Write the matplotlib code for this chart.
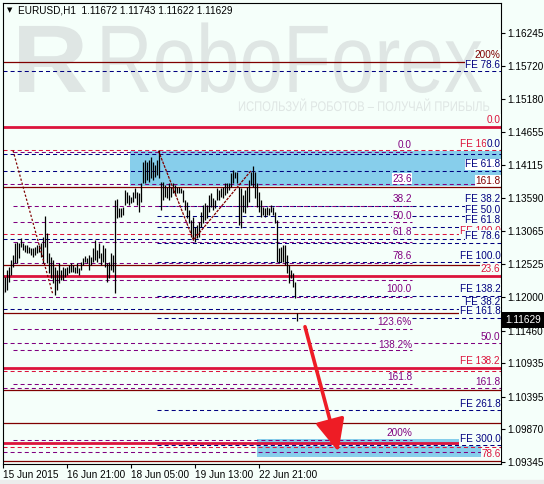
import matplotlib
matplotlib.use('Agg')
import matplotlib.pyplot as plt
from matplotlib.patches import Rectangle, PathPatch
from matplotlib.textpath import TextPath
from matplotlib.font_manager import FontProperties
from matplotlib.transforms import Affine2D, blended_transform_factory

plt.rcParams['font.family'] = ['Liberation Sans', 'DejaVu Sans']
plt.rcParams['lines.scale_dashes'] = False

# ---- data ----
title = 'EURUSD,H1  1.11672 1.11743 1.11622 1.11629'
last_price = 1.11629

bar_highs = [1.12354, 1.12322, 1.12434, 1.12483, 1.12595, 1.12676, 1.12869, 1.12885, 1.12869, 1.12949,
             1.12869, 1.12836, 1.12836, 1.12804, 1.12788, 1.12788, 1.12804, 1.12836, 1.12836, 1.12869,
             1.12965, 1.13303, 1.13029, 1.12708, 1.12644, 1.12595, 1.12483, 1.12434, 1.12547, 1.12434,
             1.12483, 1.12467, 1.12483, 1.12515, 1.12547, 1.12515, 1.12483, 1.12547, 1.12467, 1.12563,
             1.12628, 1.12660, 1.12628, 1.12676, 1.12644, 1.12788, 1.12917, 1.12756, 1.12869, 1.12708,
             1.12836, 1.12788, 1.12547, 1.12563, 1.12708, 1.12676, 1.13560, 1.13577, 1.13432, 1.13432,
             1.13448, 1.13721, 1.13689, 1.13641, 1.13609, 1.13689, 1.13753, 1.13689, 1.13673, 1.13834,
             1.14171, 1.14203, 1.14171, 1.14203, 1.14252, 1.14171, 1.14123, 1.14203, 1.14364, 1.13850,
             1.13850, 1.13802, 1.13769, 1.13834, 1.13769, 1.13834, 1.13802, 1.13769, 1.13769, 1.13753,
             1.13721, 1.13560, 1.13528, 1.13399, 1.13238, 1.13287, 1.13126, 1.13158, 1.13206, 1.13367,
             1.13480, 1.13512, 1.13480, 1.13641, 1.13673, 1.13593, 1.13560, 1.13753, 1.13721, 1.13753,
             1.13769, 1.13834, 1.13834, 1.13834, 1.13994, 1.14042, 1.14010, 1.14010, 1.13769, 1.13753,
             1.13641, 1.13721, 1.13769, 1.13882, 1.14010, 1.14107, 1.14010, 1.13834, 1.13689, 1.13560,
             1.13448, 1.13432, 1.13448, 1.13432, 1.13480, 1.13448, 1.13367, 1.13238, 1.12788, 1.12804,
             1.12836, 1.12836, 1.12676, 1.12515, 1.12434, 1.12386, 1.12242, 1.11743]
bar_lows = [1.12065, 1.12081, 1.12113, 1.12242, 1.12354, 1.12483, 1.12547, 1.12547, 1.12628, 1.12804,
            1.12756, 1.12724, 1.12708, 1.12708, 1.12676, 1.12644, 1.12676, 1.12708, 1.12724, 1.12644,
            1.12547, 1.12804, 1.12547, 1.12386, 1.12306, 1.12226, 1.12033, 1.12113, 1.12226, 1.12274,
            1.12274, 1.12322, 1.12354, 1.12386, 1.12402, 1.12402, 1.12386, 1.12386, 1.12354, 1.12434,
            1.12515, 1.12563, 1.12547, 1.12434, 1.12515, 1.12563, 1.12595, 1.12563, 1.12628, 1.12515,
            1.12563, 1.12483, 1.12242, 1.12306, 1.12434, 1.12402, 1.12065, 1.13271, 1.13287, 1.13287,
            1.13319, 1.13480, 1.13512, 1.13480, 1.13512, 1.13528, 1.13593, 1.13480, 1.13367, 1.13528,
            1.13834, 1.13834, 1.13882, 1.13850, 1.13914, 1.13882, 1.13930, 1.13962, 1.13914, 1.13399,
            1.13560, 1.13609, 1.13593, 1.13560, 1.13609, 1.13673, 1.13641, 1.13673, 1.13673, 1.13673,
            1.13528, 1.13399, 1.13271, 1.13190, 1.12965, 1.12917, 1.12885, 1.12949, 1.12965, 1.13126,
            1.13190, 1.13238, 1.13271, 1.13367, 1.13448, 1.13399, 1.13432, 1.13560, 1.13560, 1.13609,
            1.13593, 1.13641, 1.13673, 1.13721, 1.13769, 1.13834, 1.13914, 1.13834, 1.13158, 1.13110,
            1.13367, 1.13351, 1.13448, 1.13528, 1.13802, 1.13769, 1.13593, 1.13448, 1.13367, 1.13287,
            1.13319, 1.13287, 1.13319, 1.13319, 1.13367, 1.13319, 1.13190, 1.12563, 1.12547, 1.12563,
            1.12563, 1.12515, 1.12386, 1.12226, 1.12306, 1.12161, 1.11984, 1.11622]

x_ticks = [0, 32, 64, 96, 128]
x_labels = ['15 Jun 2015', '16 Jun 21:00', '18 Jun 05:00', '19 Jun 13:00', '22 Jun 21:00']
y_ticks = [1.16245, 1.15720, 1.15180, 1.14655, 1.14115, 1.13590, 1.13065,
           1.12525, 1.12000, 1.11460, 1.10935, 1.10395, 1.09870, 1.09345]

# fibo levels
maroon_levels = [1.15784, 1.13764, 1.12515, 1.11743, 1.10500, 1.09969, 1.09355]
maroon_ends = [230.8, 248.8, 238.3, 228.3, 248.8, 248.8, 248.8]
crimson_levels = [1.14738, 1.12342, 1.10866, 1.09657]
crimson_ends = [248.8, 248.8, 248.8, 228.8]
red_levels = [1.14356, 1.13008, 1.10818, 1.09593]
navy_full = [1.15629, 1.14299, 1.14031, 1.12933, 1.11802]
navy_fe = [1.13471, 1.13302, 1.13131, 1.12866, 1.12555, 1.12024, 1.11657, 1.10175, 1.09615]
purple_ret = [1.14332, 1.13471, 1.13206, 1.12892, 1.12547, 1.12273, 1.11992,
              1.11481, 1.11143, 1.10596, 1.09700]
purple_full = [1.13812, 1.11255, 1.10532, 1.09503]

ret_labels = ['0.0', '23.6', '38.2', '50.0', '61.8', '78.6', '100.0', '123.6%', '138.2%', '161.8', '200%']
ret_label_y = [1.14364, 1.13825, 1.13495, 1.13222, 1.12957, 1.12579, 1.12048, 1.11510, 1.11148, 1.10633, 1.09725]

right_labels = ['200%', 'FE 78.6', '0.0', 'FE 161.8', '0.0', 'FE 61.8', '161.8', 'FE 38.2',
                'FE 50.0', 'FE 100.0', 'FE 61.8', 'FE 78.6', 'FE 100.0', '23.6', 'FE 138.2',
                'FE 38.2', 'FE 161.8', '50.0', 'FE 138.2', '38.2', '161.8', 'FE 261.8',
                'FE 300.0', '78.6']
right_label_y = [1.15811, 1.15650, 1.14766, 1.14380, 1.14380, 1.14058, 1.13785, 1.13495,
                 1.13319, 1.12975, 1.13158, 1.12901, 1.12579, 1.12370, 1.12048,
                 1.11839, 1.11695, 1.11276, 1.10890, 1.10890, 1.10553, 1.10199,
                 1.09636, 1.09395]

# zones: (bar from, bar to, low, high)
zones = [(63.3, 248.8, 1.13777, 1.14340),
         (126.8, 228.8, 1.09628, 1.09721),
         (126.8, 238.8, 1.09427, 1.09604)]

trend_x = [4.8, 24.8]
trend_y = [1.14356, 1.12033]
zigzag_x = [77.5, 95.0, 123.8]
zigzag_y = [1.14352, 1.12917, 1.14031]
arrow_from = (150.8, 1.11522)
arrow_to = (167.5, 1.09512)

# ---- colours ----
bg = '#f5fffa'
maroon = '#800000'
crimson = '#dc143c'
navy = '#000080'
purple = '#800080'
sky = '#87ceeb'
wm = '#dfe6e4'
dash = (0, (2.9, 2.2))
fs = 7.2

fig = plt.figure(figsize=(5.44, 4.84), dpi=100, facecolor=bg)
ax = fig.add_axes([3 / 544, 20 / 484, 498 / 544, 461 / 484], facecolor=bg)
ax.set_xlim(-0.2, 248.8)
ax.set_ylim(1.093146, 1.167275)
left, right = -0.2, 248.8


# watermark, squeezed sideways like the original narrow face
def watermark(s, px, py, size, sx, weight='normal'):
    path = TextPath((0, 0), s, size=size,
                    prop=FontProperties(family='Liberation Sans', weight=weight))
    tr = Affine2D().scale(sx / 100, 1 / 100).translate(px / 100, (484 - py) / 100)
    ax.add_patch(PathPatch(path, transform=tr + fig.dpi_scale_trans,
                           fc=wm, ec='none', zorder=0.5))


watermark('R', 12, 92, 96, 1.1, 'bold')
watermark('RoboForex', 96, 92, 96, 0.815)
watermark('ИСПОЛЬЗУЙ РОБОТОВ – ПОЛУЧАЙ ПРИБЫЛЬ', 238, 111, 14, 0.8)

for x0, x1, lo, hi in zones:
    ax.add_patch(Rectangle((x0, lo), x1 - x0, hi - lo, color=sky, lw=0, zorder=1))

ax.hlines(red_levels, left, right, colors=crimson, linestyles=dash, lw=0.75, zorder=2)
ax.hlines(navy_fe, 76.8, right, colors=navy, linestyles=dash, lw=0.75, zorder=2)
ax.hlines(navy_full, left, right, colors=navy, linestyles=dash, lw=0.75, zorder=2)
ax.hlines(purple_full, left, right, colors=purple, linestyles=dash, lw=0.75, zorder=2)
ax.hlines(purple_ret, 4.8, 204.3, colors=purple, linestyles=dash, lw=0.75, zorder=2.1)
ax.hlines(maroon_levels, left, maroon_ends, colors=maroon, lw=0.9, zorder=2.2)
ax.hlines(crimson_levels, left, crimson_ends, colors=crimson, lw=2.0, zorder=2.3)

# bars
ax.vlines(range(len(bar_highs)), bar_lows, bar_highs, colors='black', lw=0.9, zorder=4)

ax.plot(trend_x, trend_y, color=maroon, lw=0.9, ls=(0, (1.6, 1.4)), zorder=5)
ax.plot(zigzag_x, zigzag_y, color=maroon, lw=0.9, ls=(0, (2.0, 0.8)), zorder=5)


def label(x, y, s, color, face):
    ax.text(x, y, s, color=color, fontsize=fs, ha='right', va='bottom', zorder=6,
            bbox=dict(boxstyle='square,pad=0.05', fc=face, ec='none'))


for s, y in zip(ret_labels, ret_label_y):
    face = 'white' if s == '23.6' else bg
    label(204.3, y, s, purple, face)

right_colors = [maroon, navy, crimson, crimson, navy, navy, maroon, navy, navy, crimson,
                navy, navy, navy, crimson, navy, navy, navy, purple, crimson, crimson,
                purple, navy, navy, crimson]
for s, y, c in zip(right_labels, right_label_y, right_colors):
    face = 'white' if 1.1377 < y < 1.1434 else bg
    label(248.5, y, s, c, face)

ax.annotate('', xy=arrow_to, xytext=arrow_from, zorder=7,
            arrowprops=dict(arrowstyle='-|>,head_length=1.1,head_width=0.5',
                            mutation_scale=18, lw=2.6, color='#ee1c25',
                            shrinkA=0, shrinkB=0))

# axes
for sp in ax.spines.values():
    sp.set_linewidth(0.8)
ax.yaxis.tick_right()
ax.set_yticks(y_ticks)
ax.set_yticklabels([f'{v:.5f}' for v in y_ticks])
ax.set_xticks(x_ticks)
ax.set_xticklabels(x_labels)
for lbl in ax.get_xticklabels():
    lbl.set_ha('left')
ax.tick_params(axis='both', length=3, width=0.8, pad=1.5, labelsize=fs)

tr = blended_transform_factory(ax.transAxes, ax.transData)
ax.text(1.0 + 4 / 498, last_price, '1.11629', transform=tr, color='white', fontsize=fs,
        ha='left', va='center', zorder=8,
        bbox=dict(boxstyle='square,pad=0.3', fc='black', ec='none'), clip_on=False)

ax.text(0.008, 0.985, '▼', transform=ax.transAxes, fontsize=5, family='DejaVu Sans',
        va='center', ha='left', zorder=8)
ax.text(0.030, 0.984, title, transform=ax.transAxes, fontsize=fs, va='center',
        ha='left', zorder=8)

fig.patches.append(Rectangle((0, 0), 1, 4 / 484, transform=fig.transFigure,
                             color='#ececec', zorder=0))

fig.savefig('out.png', dpi=100, facecolor=bg)
